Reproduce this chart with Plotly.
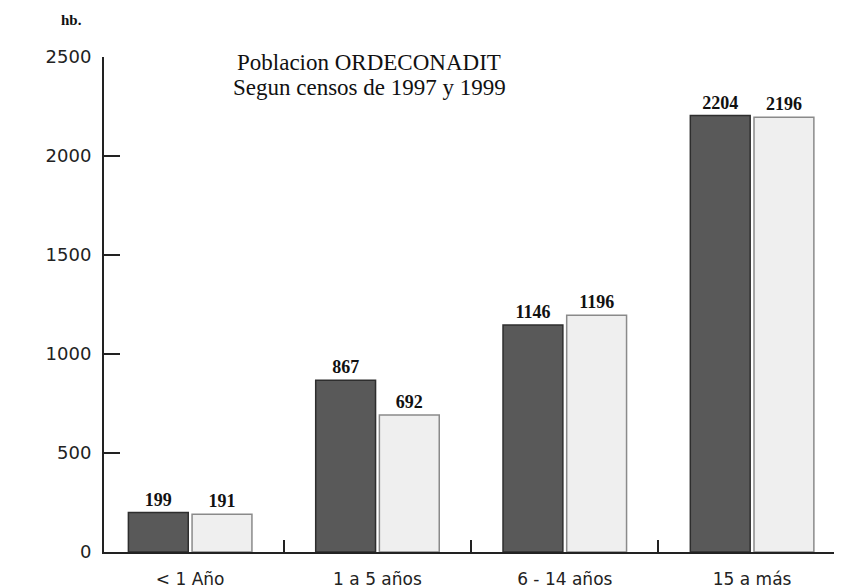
import plotly.graph_objects as go

categories = ["< 1 Año", "1 a 5 años", "6 - 14 años", "15 a más"]
censo_1997 = [199, 867, 1146, 2204]
censo_1999 = [191, 692, 1196, 2196]
y_ticks = [0, 500, 1000, 1500, 2000, 2500]
title_lines = ["Poblacion ORDECONADIT", "Segun censos de 1997 y 1999"]

label_font = dict(family="Liberation Serif", size=18, color="#111", weight="bold")

# the page adds an 8px body margin; layout below is in figure pixels
L, T, B, R = 96, 49, 44, 8
PW, PH = 842 - L - R, 588 - T - B

fig = go.Figure()
fig.add_trace(go.Bar(
    name="1997", x=categories, y=censo_1997,
    marker=dict(color="#595959", line=dict(color="#2e2e2e", width=1.5)),
    text=[str(v) for v in censo_1997], textposition="outside",
    textfont=label_font, cliponaxis=False,
))
fig.add_trace(go.Bar(
    name="1999", x=categories, y=censo_1999,
    marker=dict(color="#efefef", line=dict(color="#8a8a8a", width=1.5)),
    text=[str(v) for v in censo_1999], textposition="outside",
    textfont=label_font, cliponaxis=False,
))

def py(fig_y):
    return 1 - (fig_y - T) / PH

def px(fig_x):
    return (fig_x - L) / PW

fig.update_layout(
    width=842, height=588,
    margin=dict(l=L, r=R, t=T, b=B),
    paper_bgcolor="white", plot_bgcolor="white",
    barmode="group", bargap=0.32, bargroupgap=0.06,
    showlegend=False,
    font=dict(family="Liberation Serif", color="#111"),
    xaxis=dict(
        type="category", range=[-0.46, 3.48], automargin=False,
        showline=True, linecolor="#222", linewidth=2,
        ticks="inside", tickson="boundaries", ticklen=12, tickwidth=2, tickcolor="#222",
        tickfont=dict(family="DejaVu Sans", size=17, color="#222"),
        ticklabelstandoff=11,
        showgrid=False, zeroline=False,
    ),
    yaxis=dict(
        range=[0, 2500], tickvals=y_ticks, automargin=False,
        showline=True, linecolor="#222", linewidth=2,
        ticks="inside", ticklen=16, tickwidth=2, tickcolor="#222",
        tickfont=dict(family="DejaVu Sans", size=18, color="#222"),
        ticklabelstandoff=7,
        showgrid=False, zeroline=False,
    ),
    annotations=[
        dict(text=title_lines[0], xref="paper", yref="paper", x=px(361), y=py(55),
             xanchor="center", yanchor="middle", showarrow=False,
             font=dict(family="Liberation Serif", size=23, color="#111")),
        dict(text=title_lines[1], xref="paper", yref="paper", x=px(361), y=py(80),
             xanchor="center", yanchor="middle", showarrow=False,
             font=dict(family="Liberation Serif", size=23, color="#111")),
        dict(text="<b>hb.</b>", xref="paper", yref="paper",
             x=px(51), y=py(12), xanchor="left", yanchor="middle",
             showarrow=False, font=dict(family="Liberation Serif", size=15, color="#111")),
    ],
)

fig.write_html("out.html")
